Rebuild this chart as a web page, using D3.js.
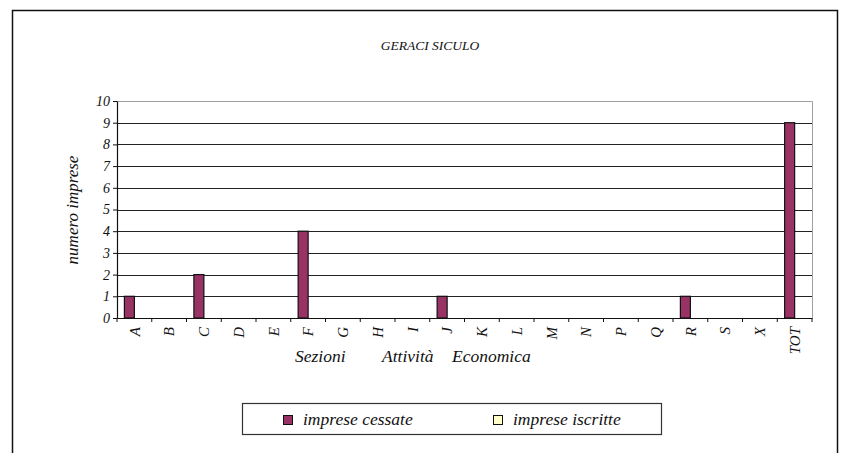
<!DOCTYPE html>
<html>
<head>
<meta charset="utf-8">
<script src="https://cdn.jsdelivr.net/npm/d3@7"></script>
<style>
  body { margin: 0; background: #fff; }
</style>
</head>
<body>
<div class="svg-container"></div>
<script>
// data
const sezioni = ["A","B","C","D","E","F","G","H","I","J","K","L","M","N","P","Q","R","S","X","TOT"];
const impreseCessate = [1,0,2,0,0,4,0,0,0,1,0,0,0,0,0,0,1,0,0,9];
const impreseIscritte = [0,0,0,0,0,0,0,0,0,0,0,0,0,0,0,0,0,0,0,0];
const yTicks = [0,1,2,3,4,5,6,7,8,9,10];
const seriesNames = ["imprese cessate", "imprese iscritte"];
const seriesColors = ["#993366", "#ffffcc"];

const width = 841, height = 453;
const plot = {left: 117, right: 812, top: 101, bottom: 318};
const serif = "Liberation Serif";

const svg = d3.select(".svg-container").append("svg")
  .attr("width", width)
  .attr("height", height);

function label(sel) {
  return sel.attr("font-family", serif).attr("font-style", "italic").attr("fill", "#111");
}

// outer frame (bottom edge runs off the page)
svg.append("path")
  .attr("d", "M12.5," + (height + 2) + " V10.5 H837.5 V" + (height + 2))
  .attr("fill", "none")
  .attr("stroke", "#111")
  .attr("stroke-width", 1.5);

svg.append("text")
  .call(label)
  .attr("x", 430)
  .attr("y", 50)
  .attr("text-anchor", "middle")
  .attr("font-size", "13.5px")
  .text("GERACI SICULO");

let xScale = d3.scaleBand()
  .domain(sezioni)
  .range([plot.left, plot.right]);

let xInner = d3.scaleBand()
  .domain(seriesNames)
  .range([0, xScale.bandwidth()])
  .paddingInner(0)
  .paddingOuter(0.74);

let yScale = d3.scaleLinear()
  .domain([0, 10])
  .range([plot.bottom, plot.top]);

// plot frame
svg.append("path")
  .attr("d", "M" + plot.left + "," + (plot.top + 0.5) + " H" + (plot.right + 0.5) + " V" + plot.bottom)
  .attr("fill", "none")
  .attr("stroke", "#a0a0a0")
  .attr("stroke-width", 1);

// grid lines
svg.append("g")
  .selectAll("line")
  .data(yTicks.filter(d => d > 0 && d < 10))
  .enter().append("line")
  .attr("x1", plot.left)
  .attr("x2", plot.right)
  .attr("y1", d => Math.round(yScale(d)) + 0.5)
  .attr("y2", d => Math.round(yScale(d)) + 0.5)
  .attr("stroke", "#222")
  .attr("stroke-width", 1);

// bars
const groups = svg.append("g")
  .selectAll("g")
  .data(sezioni)
  .enter().append("g")
  .attr("transform", d => "translate(" + xScale(d) + ",0)");

groups.selectAll("rect")
  .data((d, i) => [
    {name: seriesNames[0], value: impreseCessate[i]},
    {name: seriesNames[1], value: impreseIscritte[i]}
  ].filter(e => e.value > 0))
  .enter().append("rect")
  .attr("x", d => xInner(d.name))
  .attr("y", d => yScale(d.value))
  .attr("width", xInner.bandwidth())
  .attr("height", d => yScale(0) - yScale(d.value))
  .attr("fill", d => seriesColors[seriesNames.indexOf(d.name)])
  .attr("stroke", "#111")
  .attr("stroke-width", 1.2);

// y axis
const gY = svg.append("g")
  .attr("transform", "translate(" + plot.left + ",0)")
  .call(d3.axisLeft(yScale).tickValues(yTicks).tickSize(4).tickSizeOuter(0));
gY.select(".domain").attr("stroke", "#111").attr("stroke-width", 1.2);
gY.selectAll(".tick line").attr("stroke", "#111");
gY.selectAll(".tick text")
  .call(label)
  .attr("font-size", "14px")
  .attr("x", -7);

// x axis
const gX = svg.append("g")
  .attr("transform", "translate(0," + plot.bottom + ")")
  .call(d3.axisBottom(xScale).tickSize(0).tickSizeOuter(0));
gX.select(".domain").attr("stroke", "#111").attr("stroke-width", 1.2);
gX.selectAll(".tick text")
  .call(label)
  .attr("font-size", "15px")
  .attr("text-anchor", "end")
  .attr("dy", "0.35em")
  .attr("transform", "translate(0,9) rotate(-90)")
  .attr("x", 0)
  .attr("y", 0);

// x tick marks on band boundaries
svg.append("g")
  .selectAll("line")
  .data(sezioni.map(d => xScale(d)).concat([plot.right]))
  .enter().append("line")
  .attr("x1", d => d)
  .attr("x2", d => d)
  .attr("y1", plot.bottom)
  .attr("y2", plot.bottom + 4)
  .attr("stroke", "#111");

// axis titles
svg.append("text")
  .call(label)
  .attr("transform", "translate(78,210) rotate(-90)")
  .attr("text-anchor", "middle")
  .attr("font-size", "17px")
  .text("numero imprese");

const xTitle = svg.append("text")
  .call(label)
  .attr("y", 362)
  .attr("font-size", "17.5px");
[["Sezioni", 295], ["Attività", 382], ["Economica", 452]].forEach(function(w) {
  xTitle.append("tspan").attr("x", w[1]).text(w[0]);
});

// legend
const legend = svg.append("g");
legend.append("rect")
  .attr("x", 242.5)
  .attr("y", 403.5)
  .attr("width", 419)
  .attr("height", 31)
  .attr("fill", "#fff")
  .attr("stroke", "#333")
  .attr("stroke-width", 1.2);

const legendX = [283, 493];
seriesNames.forEach(function(name, i) {
  legend.append("rect")
    .attr("x", legendX[i] + 0.5)
    .attr("y", 415.5)
    .attr("width", 9)
    .attr("height", 9)
    .attr("fill", seriesColors[i])
    .attr("stroke", "#111")
    .attr("stroke-width", 1);
  legend.append("text")
    .call(label)
    .attr("x", legendX[i] + 20)
    .attr("y", 425)
    .attr("font-size", "17.5px")
    .text(name);
});
</script>
</body>
</html>
